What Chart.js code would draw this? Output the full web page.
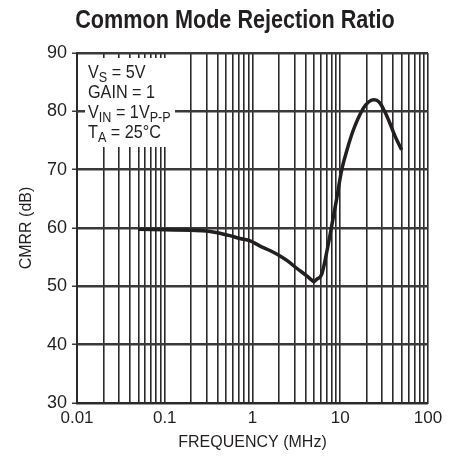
<!DOCTYPE html>
<html><head><meta charset="utf-8">
<script src="https://cdn.jsdelivr.net/npm/chart.js@4.4.1/dist/chart.umd.min.js"></script>
<style>html,body{margin:0;padding:0;background:#fff}#w{width:458px;height:458px}</style>
</head><body><div id="w"><canvas id="c"></canvas></div>
<script>
const freqMHz = [0.05,0.1,0.2,0.3,0.4,0.55,0.72,0.94,1.22,1.6,2.06,2.6,3.19,4.15,4.7,5.0,5.4,6.16,7.0,8.0,9.1,10.4,12,14.1,18.3,21,23.8,26,28.4,32,36.7,42,50];
const cmrrDb  = [59.8,59.7,59.6,59.5,59.2,58.7,58.2,57.8,56.9,56.1,55.2,54.2,53.1,51.8,51.1,50.8,51.2,52.1,55.8,60.4,65,70,73.5,76.8,80.5,81.6,82,81.9,81.4,80,78,75.8,73.4];
const xMajorTicks = [0.01,0.1,1,10,100];
const xTickLabels = ['0.01','0.1','1','10','100'];
const yTicks = [30,40,50,60,70,80,90];
const titleText = 'Common Mode Rejection Ratio';
const xTitle = 'FREQUENCY (MHz)';
const yTitle = 'CMRR (dB)';
const condRows = [['V','S',' = 5V'],['GAIN = 1','',''],['V','IN',' = 1V','P-P'],['T','A',' = 25°C']];

const FONT = "'Liberation Sans',Arial,sans-serif";
const xAllTicks = [];
for (let d = 0; d < xMajorTicks.length - 1; d++) {
  for (let m = 1; m <= 9; m++) xAllTicks.push(+(xMajorTicks[d]*m).toPrecision(3));
}
xAllTicks.push(xMajorTicks[xMajorTicks.length-1]);

const overlay = {
  id:'overlay',
  afterDraw(chart){
    const ctx = chart.ctx, ca = chart.chartArea, ys = chart.scales.y;
    ctx.save();
    // title (condensed look)
    ctx.fillStyle = '#231f20';
    ctx.font = "bold 25px " + FONT;
    ctx.textAlign = 'center'; ctx.textBaseline = 'alphabetic';
    ctx.save(); ctx.translate(235, 28); ctx.scale(0.865, 1); ctx.fillText(titleText, 0, 0); ctx.restore();
    // condition box
    ctx.fillStyle = '#fff';
    ctx.fillRect(ca.left + 1.5, 58, 110, 89);
    ctx.strokeStyle = '#3a3a3a'; ctx.lineWidth = 2.5;
    const y80 = ys.getPixelForValue(80);
    ctx.beginPath();
    ctx.moveTo(ca.left, y80); ctx.lineTo(ca.left + 8, y80);
    ctx.moveTo(ca.left + 98, y80); ctx.lineTo(ca.left + 112, y80);
    ctx.stroke();
    ctx.fillStyle = '#231f20';
    ctx.textAlign = 'left';
    let by = 78;
    const sx = 0.9;
    condRows.forEach(r => {
      ctx.save(); ctx.translate(88, by); ctx.scale(sx, 1);
      let x = 0;
      ctx.font = "18px " + FONT;
      ctx.fillText(r[0], x, 0); x += ctx.measureText(r[0]).width;
      if (r[1]) { ctx.font = "14px " + FONT; ctx.fillText(r[1], x, 4); x += ctx.measureText(r[1]).width; }
      if (r[2]) { ctx.font = "18px " + FONT; ctx.fillText(r[2], x, 0); x += ctx.measureText(r[2]).width; }
      if (r[3]) { ctx.font = "14px " + FONT; ctx.fillText(r[3], x, 4); }
      ctx.restore();
      by += 20;
    });
    ctx.restore();
  }
};

new Chart(document.getElementById('c'), {
  type:'line',
  data:{ datasets:[{ data: freqMHz.map((f,i)=>({x:f,y:cmrrDb[i]})), borderColor:'#231f20', borderWidth:3.5, pointRadius:0, cubicInterpolationMode:'monotone', fill:false }]},
  options:{
    responsive:true, maintainAspectRatio:false, animation:false,
    layout:{ padding:{ top:53, right:30, left:0, bottom:0 } },
    plugins:{ legend:{display:false}, tooltip:{enabled:false}, title:{display:false} },
    scales:{
      x:{ type:'logarithmic', min:0.01, max:100,
        afterBuildTicks(s){ s.ticks = xAllTicks.map(v=>({value:v})); },
        afterFit(s){ s.height = 55; },
        ticks:{ autoSkip:false, maxRotation:0, padding:5, color:'#231f20', font:{family:FONT,size:17},
          callback(v){ const i = xMajorTicks.findIndex(m=>Math.abs(m-v)/m<1e-6); return i>=0 ? xTickLabels[i] : ''; } },
        grid:{ color:'#2a2a2a', lineWidth:1.6, drawTicks:false },
        border:{ color:'#2a2a2a', width:2 },
        title:{ display:true, text:xTitle, color:'#231f20', font:{family:FONT,size:16}, padding:{top:0,bottom:6} }
      },
      y:{ type:'linear', min:30, max:90,
        afterBuildTicks(s){ s.ticks = yTicks.map(v=>({value:v})); },
        afterFit(s){ s.width = 77; },
        ticks:{ padding:5, color:'#231f20', font:{family:FONT,size:18} },
        grid:{ color:'#3a3a3a', lineWidth:2.5, drawTicks:true, tickLength:5, tickColor:'#3a3a3a', tickWidth:1.5 },
        border:{ color:'#2a2a2a', width:2 },
        title:{ display:true, text:yTitle, color:'#231f20', font:{family:FONT,size:16}, padding:{top:17,bottom:0} }
      }
    }
  },
  plugins:[overlay]
});
</script></body></html>
